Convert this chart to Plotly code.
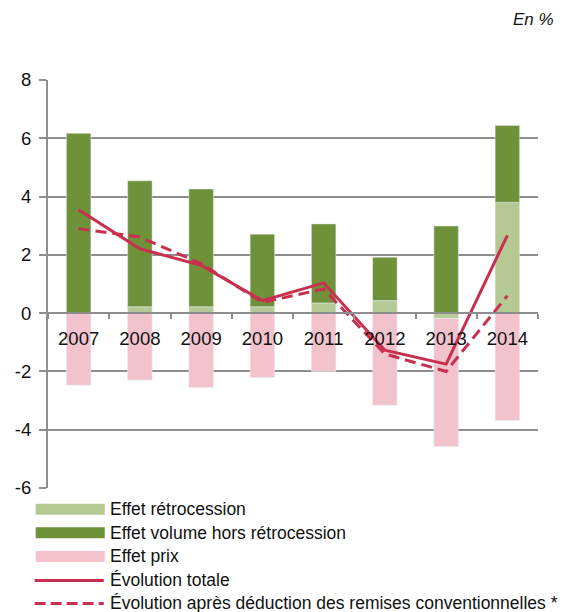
import plotly.graph_objects as go

years = ["2007", "2008", "2009", "2010", "2011", "2012", "2013", "2014"]
retro = [0.0, 0.22, 0.22, 0.22, 0.35, 0.43, -0.18, 3.80]
volume = [6.17, 4.32, 4.04, 2.49, 2.71, 1.49, 2.99, 2.64]
prix = [-2.47, -2.29, -2.55, -2.21, -2.00, -3.16, -4.40, -3.68]
totale = [3.55, 2.21, 1.64, 0.43, 1.04, -1.27, -1.75, 2.67]
apres = [2.90, 2.61, 1.70, 0.37, 0.83, -1.40, -2.00, 0.60]
y_ticks = [8, 6, 4, 2, 0, -2, -4, -6]

names = ["Effet rétrocession", "Effet volume hors rétrocession", "Effet prix",
         "Évolution totale", "Évolution après déduction des remises conventionnelles *"]

C_LIGHT = "#B5C995"
C_DARK = "#6F913A"
C_PINK = "#F2C3CC"
C_LINE = "#C9304F"
GRID = "#8E8E8E"
FONT = "Liberation Sans Narrow, Arial Narrow, Liberation Sans, Arial, sans-serif"

W, H = 568, 612
L, R, T, B = 48.3, 30.3, 80.3, 124.3
PW, PH = W - L - R, H - T - B


def px(xp):
    return (xp - L) / PW


def py(yp):
    return (H - B - yp) / PH


fig = go.Figure()
fig.add_trace(go.Bar(x=years, y=retro, name=names[0], marker_color=C_LIGHT, showlegend=False))
fig.add_trace(go.Bar(x=years, y=volume, name=names[1], marker_color=C_DARK, showlegend=False))
fig.add_trace(go.Bar(x=years, y=prix, name=names[2], marker_color=C_PINK, showlegend=False))
fig.add_trace(go.Scatter(x=years, y=totale, name=names[3], mode="lines",
                         line=dict(color=C_LINE, width=3), showlegend=False))
fig.add_trace(go.Scatter(x=years, y=apres, name=names[4], mode="lines",
                         line=dict(color=C_LINE, width=3, dash="11px,6px"), showlegend=False))

# custom legend
rows = [509, 532.5, 556, 580, 603]
shapes = []
annotations = []
for i, (nm, yr) in enumerate(zip(names, rows)):
    if i < 3:
        col = [C_LIGHT, C_DARK, C_PINK][i]
        shapes.append(dict(type="rect", xref="paper", yref="paper",
                           x0=px(36), x1=px(105), y0=py(yr - 5.5), y1=py(yr + 5.5),
                           fillcolor=col, line=dict(width=0)))
    else:
        shapes.append(dict(type="line", xref="paper", yref="paper",
                           x0=px(35), x1=px(104), y0=py(yr), y1=py(yr),
                           line=dict(color=C_LINE, width=3,
                                     dash="solid" if i == 3 else "11px,5px")))
    annotations.append(dict(text=nm, xref="paper", yref="paper", x=px(108), y=py(yr),
                            xanchor="left", yanchor="middle", showarrow=False,
                            font=dict(family=FONT, size=17.5, color="#111111")))

annotations.append(dict(text="<i>En %</i>", xref="paper", yref="paper", x=px(556), y=py(20),
                        xanchor="right", yanchor="middle", showarrow=False,
                        font=dict(family=FONT, size=17, color="#111111")))

fig.update_layout(
    width=W, height=H,
    margin=dict(l=L, r=R, t=T, b=B),
    paper_bgcolor="white", plot_bgcolor="white",
    barmode="relative", bargap=0.6,
    font=dict(family=FONT, size=18, color="#111111"),
    shapes=shapes, annotations=annotations,
    xaxis=dict(type="category", range=[-0.5, 7.5], anchor="free", position=6 / 14,
               showline=True, linecolor=GRID, linewidth=2,
               ticks="outside", tickson="boundaries", ticklen=5, tickcolor=GRID, tickwidth=1.5,
               tickvals=years, ticktext=years, showgrid=False, ticklabelstandoff=9,
               tickfont=dict(family=FONT, size=18.5, color="#111111")),
    yaxis=dict(range=[-6, 8], tickvals=y_ticks, ticktext=[str(v) for v in y_ticks],
               showgrid=True, gridcolor=GRID, gridwidth=1.6, zeroline=False,
               showline=True, linecolor=GRID, linewidth=2,
               ticks="outside", ticklen=7, tickcolor=GRID, tickwidth=1.6,
               ticklabelstandoff=4,
               tickfont=dict(family=FONT, size=18.5, color="#111111")),
)

fig.write_html("out.html", config={"displayModeBar": False},
               post_script="document.body.style.margin='0';document.body.style.padding='0';")
